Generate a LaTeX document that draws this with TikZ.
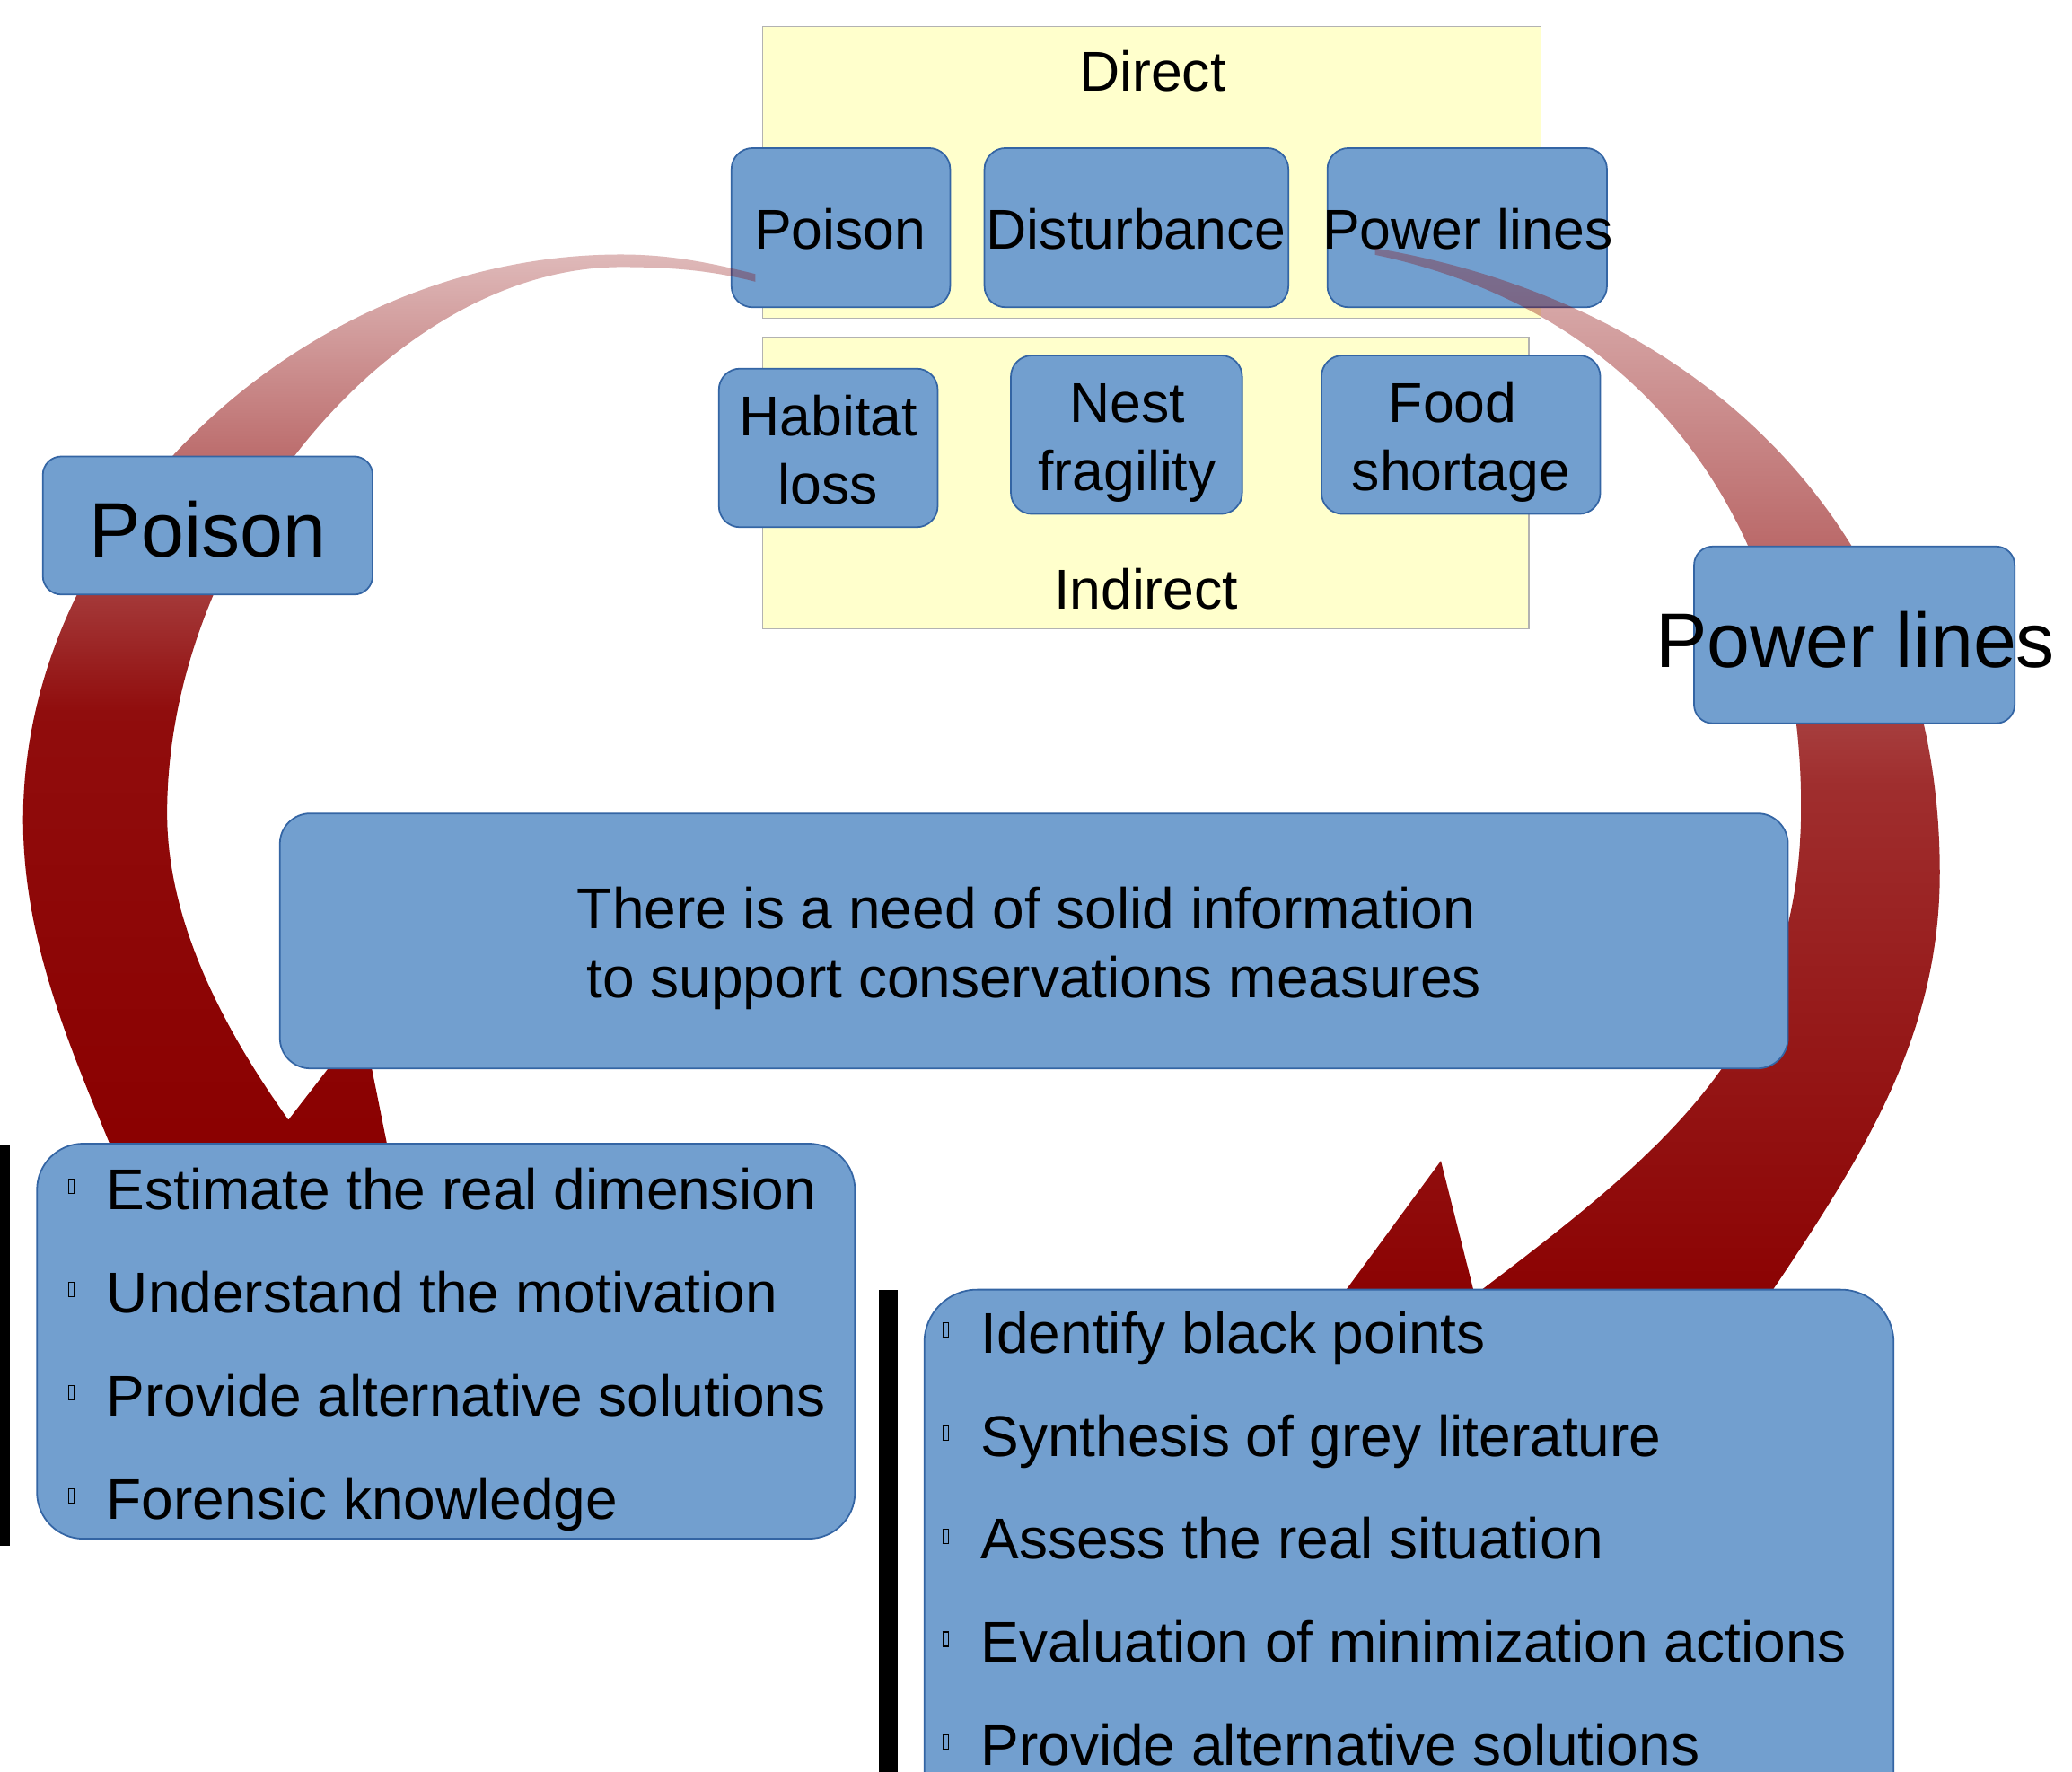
\documentclass[tikz,border=0pt]{standalone}
\usepackage{fontspec}
\setmainfont{Liberation Sans}
\usetikzlibrary{fadings}
\definecolor{bfill}{HTML}{729FCF}
\definecolor{bline}{HTML}{3465A4}
\definecolor{yfill}{HTML}{FFFFCC}
\definecolor{yline}{HTML}{B2B2B2}
\definecolor{arrowred}{HTML}{8B0000}
\tikzfading[name=arcfadeL, top color=transparent!73, bottom color=transparent!0, middle color=transparent!5]
\tikzfading[name=arcfadeR, top color=transparent!71, bottom color=transparent!0, middle color=transparent!18]
\newcommand\szS{\fontsize{42.5}{51}\selectfont}
\newcommand\szM{\fontsize{43.5}{52}\selectfont}
\newcommand\szL{\fontsize{58.5}{70}\selectfont}
\newcommand\bulletbox{\makebox[0pt][r]{\raisebox{12.5pt}{\setlength\fboxsep{0pt}\setlength\fboxrule{0.8pt}\fbox{\rule{0pt}{10pt}\hspace{3.6pt}}}\hspace{24pt}}}
\begin{document}
\begin{tikzpicture}[x=1pt, y=-1pt,
  ybox/.style={draw=yline, fill=yfill, line width=1pt, inner sep=0pt},
  bbox/.style={draw=bline, fill=bfill, line width=1.2pt, inner sep=0pt},
  sbox/.style={bbox, rounded corners=16pt},
  txt/.style={inner sep=0pt, anchor=base, text=black},
  ltxt/.style={inner sep=0pt, anchor=base west, text=black, font=\szM},
  arrowL/.style={fill=arrowred, path fading=arcfadeL},
  arrowR/.style={fill=arrowred, path fading=arcfadeR},
  bar/.style={fill=black}
]
\useasboundingbox (0,0) rectangle (1568,1341);
\clip (0,0) rectangle (1568,1341);
\fill[white] (0,0) rectangle (1568,1341);

% yellow group boxes
\node[ybox, minimum width=589pt, minimum height=221pt] (direct) at (871.5,130.5) {};
\node[ybox, minimum width=580pt, minimum height=221pt] (indirect) at (867,365.5) {};
\node[txt, font=\szS] (directlbl) at (872.3,69.2) {Direct};
\node[txt, font=\szS] (indirectlbl) at (867.3,460.7) {Indirect};

% small blue boxes
\node[sbox, minimum width=165.5pt, minimum height=120.5pt] (spoison) at (636.3,172.3) {};
\node[sbox, minimum width=230pt, minimum height=120.5pt] (disturb) at (860,172.3) {};
\node[sbox, minimum width=211.5pt, minimum height=120.5pt] (spower) at (1110.3,172.3) {};
\node[sbox, minimum width=165.6pt, minimum height=120pt] (habitat) at (626.8,339) {};
\node[sbox, minimum width=175pt, minimum height=120pt] (nest) at (852.5,329) {};
\node[sbox, minimum width=211pt, minimum height=120pt] (food) at (1105.5,329) {};

\node[txt, font=\szS] (spoisont) at (635.7,188.7) {Poison};
\node[txt, font=\szS] (disturbt) at (859.8,188.7) {Disturbance};
\node[txt, font=\szS] (spowert) at (1110.7,188.7) {Power lines};
\node[txt, font=\szS] (habitat1) at (627,330) {Habitat};
\node[txt, font=\szS] (habitat2) at (626.4,381.2) {loss};
\node[txt, font=\szS] (nest1) at (853,319.8) {Nest};
\node[txt, font=\szS] (nest2) at (853,371) {fragility};
\node[txt, font=\szS] (food1) at (1099.3,319.8) {Food};
\node[txt, font=\szS] (food2) at (1105.7,371) {shortage};

% left curved arrow
\fill[arrowL]
  (571.6,206.3) .. controls (535,197) and (505,191.5) .. (470,191.5)
  .. controls (230.2,191.5) and (17.5,392.9) .. (17.5,620)
  .. controls (17.5,710) and (52.6,791.4) .. (83.1,865.4)
  -- (90.8,885) -- (296.8,885) -- (274.6,774.4) -- (218.3,847.2)
  .. controls (177.8,790.1) and (126.5,705) .. (126.5,615)
  .. controls (126.5,408) and (298.25,201) .. (470,201)
  .. controls (510,201) and (540,204) .. (571.6,212.1)
  -- cycle;

% right curved arrow
\fill[arrowR]
  (1040.6,187.5) .. controls (1287,229.5) and (1468,400) .. (1468,660)
  .. controls (1468,780) and (1414.5,867.6) .. (1342,975.5)
  -- (1330,995) -- (1001,1000) -- (1090.4,878.4) -- (1116,980)
  .. controls (1259.3,871.1) and (1363,790) .. (1363,610)
  .. controls (1363,410) and (1256,237.8) .. (1040.6,192.5)
  -- cycle;

% big labels
\node[bbox, rounded corners=14pt, minimum width=249.6pt, minimum height=104.5pt] (bpoison) at (157.2,397.7) {};
\node[txt, font=\szL] (bpoisont) at (157.3,421.7) {Poison};
\node[bbox, rounded corners=14pt, minimum width=242.6pt, minimum height=133.8pt] (bpower) at (1403.3,480.5) {};
\node[txt, font=\szL] (bpowert) at (1404,505) {Power lines};

% central box
\node[bbox, rounded corners=23pt, minimum width=1141.2pt, minimum height=193pt] (central) at (782.4,712.1) {};
\node[txt, font=\szM] (central1) at (776.5,703) {There is a need of solid information};
\node[txt, font=\szM] (central2) at (782.5,755) {to support conservations measures};

% left list
\fill[bar] (0,866) rectangle (7.8,1169.6);
\node[bbox, rounded corners=35pt, minimum width=619pt, minimum height=299pt] (leftlist) at (337.5,1015) {};
\foreach \t [count=\i] in {Estimate the real dimension, Understand the motivation, Provide alternative solutions, Forensic knowledge}
  \node[ltxt] (left\i) at (80.5,{915.5+78*(\i-1)}) {\bulletbox\t};

% right list
\fill[bar] (665,976) rectangle (679.7,1345);
\node[bbox, rounded corners=40pt, minimum width=733.5pt, minimum height=444pt] (rightlist) at (1066.25,1198) {};
\foreach \t [count=\i] in {Identify black points, Synthesis of grey literature, Assess the real situation, Evaluation of minimization actions, Provide alternative solutions}
  \node[ltxt] (right\i) at (742,{1024+78*(\i-1)}) {\bulletbox\t};
\end{tikzpicture}
\end{document}
